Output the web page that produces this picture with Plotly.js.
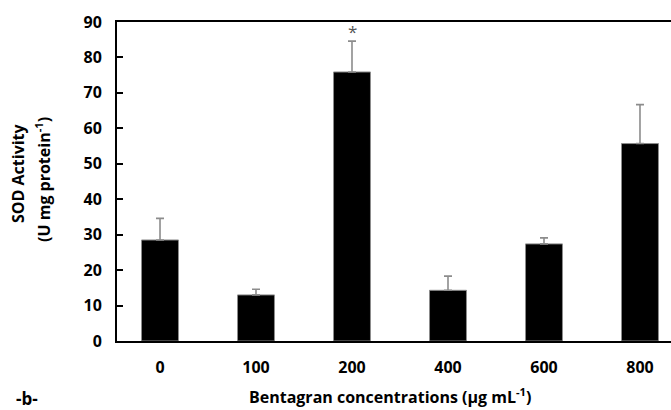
<!DOCTYPE html>
<html>
<head>
<meta charset="utf-8">
<script src="https://cdn.plot.ly/plotly-3.0.1.min.js"></script>
<style>html,body{margin:0;padding:0;background:#fff;}</style>
</head>
<body>
<div id="chart" style="width:671px;height:410px;"></div>
<script>
const categories = ['0', '100', '200', '400', '600', '800'];
const sodValues = [28.5, 13.0, 75.9, 14.3, 27.4, 55.7];
const sodErrors = [6.1, 1.6, 8.7, 4.0, 1.7, 11.0];
const yTickVals = [0, 10, 20, 30, 40, 50, 60, 70, 80, 90];
const significance = ['', '', '*', '', '', ''];
const xTitle = 'Bentagran concentrations (μg mL<sup>-1</sup>)';
const yTitleLines = ['SOD Activity', '(U mg protein<sup>-1</sup>)'];
const panelLabel = '-b-';

const FONT = 'Open Sans, Noto Sans, sans-serif';
const W = 671, H = 410, ML = 117, MR = 0, MT = 22, MB = 69;
const px2x = p => (p - ML) / (W - ML - MR);
const px2y = p => (H - MB - p) / (H - MT - MB);

const trace = {
  type: 'bar',
  x: [0, 1, 2, 3, 4, 5],
  y: sodValues,
  width: 0.385,
  marker: {color: '#000000', line: {color: '#8c8c8c', width: 1}},
  error_y: {type: 'data', array: sodErrors, symmetric: false, arrayminus: sodErrors.map(() => 0),
            color: '#8c8c8c', thickness: 1.6, width: 4},
  hoverinfo: 'skip'
};

const annotations = [];
significance.forEach((s, i) => {
  if (s) {
    annotations.push({x: i, y: sodValues[i] + sodErrors[i], yshift: 10, text: s, showarrow: false,
      font: {family: FONT, size: 17, color: '#555555'}, xanchor: 'center', yanchor: 'middle'});
  }
});
annotations.push({xref: 'paper', yref: 'paper', x: px2x(14), y: px2y(398), text: '<b>' + panelLabel + '</b>', showarrow: false,
  font: {family: FONT, size: 17, color: '#000'}, xanchor: 'left', yanchor: 'middle'});
annotations.push({xref: 'paper', yref: 'paper', x: px2x(390), y: px2y(396), text: '<b>' + xTitle + '</b>', showarrow: false,
  font: {family: FONT, size: 16, color: '#000'}, xanchor: 'center', yanchor: 'middle'});
annotations.push({xref: 'paper', yref: 'paper', x: px2x(18), y: px2y(173), text: '<b>' + yTitleLines[0] + '</b>', showarrow: false,
  textangle: -90, font: {family: FONT, size: 16, color: '#000'}, xanchor: 'center', yanchor: 'middle'});
annotations.push({xref: 'paper', yref: 'paper', x: px2x(43), y: px2y(180), text: '<b>' + yTitleLines[1] + '</b>', showarrow: false,
  textangle: -90, font: {family: FONT, size: 16, color: '#000'}, xanchor: 'center', yanchor: 'middle'});

const layout = {
  width: W, height: H,
  margin: {l: ML, r: MR, t: MT, b: MB},
  paper_bgcolor: '#fff', plot_bgcolor: '#fff',
  showlegend: false,
  bargap: 0,
  xaxis: {
    range: [-0.448, 5.323],
    tickmode: 'array', tickvals: [0, 1, 2, 3, 4, 5], ticktext: categories.map(c => '<b>' + c + '</b>'),
    ticks: 'outside', ticklen: 11, tickcolor: 'rgba(0,0,0,0)',
    showline: true, linecolor: '#000', linewidth: 2, mirror: true,
    showgrid: false, zeroline: false,
    tickfont: {family: FONT, size: 16, color: '#000'}
  },
  yaxis: {
    range: [0, 90],
    tickmode: 'array', tickvals: yTickVals, ticktext: yTickVals.map(v => '<b>' + v + '</b>'),
    ticks: 'inside', ticklen: 6, tickwidth: 2, tickcolor: '#000',
    ticklabelstandoff: 10,
    showline: true, linecolor: '#000', linewidth: 2,
    showgrid: false, zeroline: false,
    tickfont: {family: FONT, size: 16, color: '#000'}
  },
  annotations: annotations
};

Plotly.newPlot('chart', [trace], layout, {displayModeBar: false, staticPlot: true});
</script>
</body>
</html>
